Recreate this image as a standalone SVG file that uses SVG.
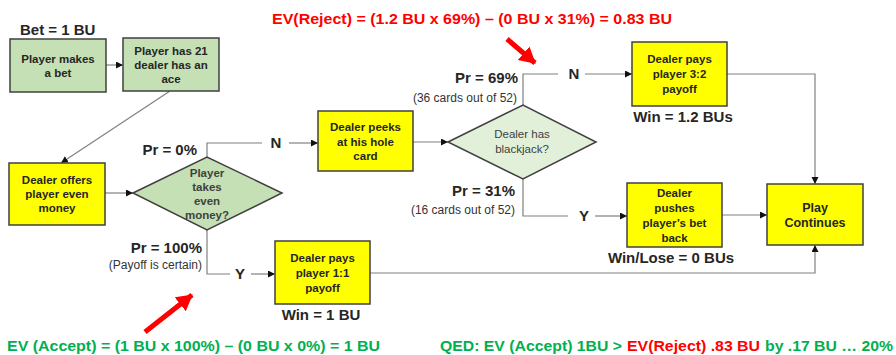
<svg xmlns="http://www.w3.org/2000/svg" width="896" height="355" viewBox="0 0 896 355">
<defs>
<marker id="ah" markerUnits="userSpaceOnUse" markerWidth="8" markerHeight="8" refX="7" refY="3.5" orient="auto"><path d="M0,0 L7,3.5 L0,7 z" fill="#111"/></marker>
<marker id="rh" markerUnits="userSpaceOnUse" markerWidth="20" markerHeight="20" refX="15" refY="9" orient="auto"><path d="M0,0 L16,9 L0,18 z" fill="#ff0000"/></marker>
</defs>
<style>
text{font-family:"Liberation Sans",Arial,sans-serif;font-weight:bold;fill:#262626}
.bt{font-size:11.5px;text-anchor:middle}
.dt{font-size:11.5px;text-anchor:middle;fill:#404040}
.dn{font-size:11.5px;text-anchor:middle;fill:#404040;font-weight:normal}
.lb{font-size:15px}
.sm{font-size:12px;font-weight:normal;fill:#333}
.gbox{fill:#c5e0b4;stroke:#404040;stroke-width:1.5}
.ybox{fill:#ffff00;stroke:#404040;stroke-width:1.5}
.red{fill:#ff0000}
.grn{fill:#00b050}
.c{fill:none;stroke:#808080;stroke-width:1.2}
.ca{fill:none;stroke:#808080;stroke-width:1.2;marker-end:url(#ah)}
.ra{stroke:#ff0000;stroke-width:5;marker-end:url(#rh)}
</style>

<g id="connectors">
<line class="ca" x1="106" y1="65" x2="123" y2="65"/>
<line class="ca" x1="170" y1="91" x2="61" y2="163"/>
<line class="ca" x1="105" y1="193" x2="133" y2="193"/>
<polyline class="c" points="207,157 207,143 262,143"/>
<line class="ca" x1="289" y1="143" x2="318" y2="143"/>
<polyline class="c" points="207,230 207,274 230,274"/>
<line class="ca" x1="251" y1="274" x2="275" y2="274"/>
<polyline class="ca" points="370,273 815,273 815,245"/>
<line class="ca" x1="413" y1="142" x2="448" y2="142"/>
<polyline class="c" points="523,105 523,74 558,74"/>
<line class="ca" x1="585" y1="74" x2="632" y2="74"/>
<polyline class="c" points="523,179 523,216 568,216"/>
<line class="ca" x1="595" y1="216" x2="627" y2="216"/>
<polyline class="ca" points="727,74 815,74 815,184"/>
<line class="ca" x1="722" y1="215" x2="767" y2="215"/>
<line class="ra" x1="507" y1="39" x2="535" y2="63"/>
<line class="ra" x1="145" y1="332" x2="192" y2="295"/>
</g>

<g id="bet"><text class="lb" x="20" y="35">Bet = 1 BU</text></g>

<g id="n1">
<rect class="gbox" x="10" y="39" width="96" height="53"/>
<text class="bt" x="58" y="63">Player makes</text>
<text class="bt" x="58" y="77">a bet</text>
</g>
<g id="n2">
<rect class="gbox" x="123" y="38" width="96" height="53"/>
<text class="bt" x="171" y="55">Player has 21</text>
<text class="bt" x="171" y="69">dealer has an</text>
<text class="bt" x="171" y="83">ace</text>
</g>
<g id="n3">
<rect class="ybox" x="9" y="163" width="96" height="62"/>
<text class="bt" x="57" y="184">Dealer offers</text>
<text class="bt" x="57" y="198">player even</text>
<text class="bt" x="57" y="212">money</text>
</g>
<g id="d1">
<polygon class="gbox" points="133,193 207,157 282,193 207,230"/>
<text class="dt" x="207" y="177">Player</text>
<text class="dt" x="207" y="191">takes</text>
<text class="dt" x="207" y="205">even</text>
<text class="dt" x="207" y="219">money?</text>
</g>
<g id="n4">
<rect class="ybox" x="318" y="111" width="95" height="60"/>
<text class="bt" x="365.5" y="131">Dealer peeks</text>
<text class="bt" x="365.5" y="145.5">at his hole</text>
<text class="bt" x="365.5" y="160">card</text>
</g>
<g id="n5">
<rect class="ybox" x="275" y="241" width="95" height="63"/>
<text class="bt" x="322.5" y="262">Dealer pays</text>
<text class="bt" x="322.5" y="277">player 1:1</text>
<text class="bt" x="322.5" y="292">payoff</text>
<text class="lb" x="321" y="320" text-anchor="middle">Win = 1 BU</text>
</g>
<g id="d2">
<polygon points="448,142 523,105 596,142 523,179" fill="#e2f0d9" stroke="#404040" stroke-width="1.5"/>
<text class="dn" x="522" y="138">Dealer has</text>
<text class="dn" x="522" y="153">blackjack?</text>
</g>
<g id="n6">
<rect class="ybox" x="632" y="42" width="95" height="64"/>
<text class="bt" x="679.5" y="63">Dealer pays</text>
<text class="bt" x="679.5" y="78">player 3:2</text>
<text class="bt" x="679.5" y="93">payoff</text>
<text class="lb" x="683" y="122" text-anchor="middle">Win = 1.2 BUs</text>
</g>
<g id="n7">
<rect class="ybox" x="627" y="183" width="95" height="64"/>
<text class="bt" x="674.5" y="197">Dealer</text>
<text class="bt" x="674.5" y="212">pushes</text>
<text class="bt" x="674.5" y="227">player’s bet</text>
<text class="bt" x="674.5" y="242">back</text>
<text class="lb" x="671" y="263" text-anchor="middle">Win/Lose = 0 BUs</text>
</g>
<g id="n8">
<rect class="ybox" x="767" y="184" width="96" height="61"/>
<text class="bt" x="815" y="212" style="font-size:12.5px">Play</text>
<text class="bt" x="815" y="227" style="font-size:12.5px">Continues</text>
</g>

<g id="labels">
<text class="lb" x="197" y="155" text-anchor="end">Pr = 0%</text>
<text class="lb" x="276" y="148" text-anchor="middle">N</text>
<text class="lb" x="202" y="253" text-anchor="end">Pr = 100%</text>
<text class="sm" x="202" y="269" text-anchor="end">(Payoff is certain)</text>
<text class="lb" x="240" y="279" text-anchor="middle">Y</text>
<text class="lb" x="518" y="83" text-anchor="end">Pr = 69%</text>
<text class="sm" x="517" y="102" text-anchor="end">(36 cards out of 52)</text>
<text class="lb" x="574" y="79" text-anchor="middle">N</text>
<text class="lb" x="515" y="196" text-anchor="end">Pr = 31%</text>
<text class="sm" x="515" y="214" text-anchor="end">(16 cards out of 52)</text>
<text class="lb" x="584" y="221" text-anchor="middle">Y</text>
</g>

<g id="ev">
<text class="lb red" x="272" y="24" textLength="400" lengthAdjust="spacingAndGlyphs">EV(Reject) = (1.2 BU x 69%) – (0 BU x 31%) = 0.83 BU</text>
<text class="lb grn" x="7" y="351" textLength="373" lengthAdjust="spacingAndGlyphs">EV (Accept) = (1 BU x 100%) – (0 BU x 0%) = 1 BU</text>
<text class="lb grn" x="440" y="351" textLength="182" lengthAdjust="spacingAndGlyphs">QED: EV (Accept) 1BU &gt;</text>
<text class="lb red" x="627" y="351" textLength="133" lengthAdjust="spacingAndGlyphs">EV(Reject) .83 BU</text>
<text class="lb grn" x="765" y="351" textLength="128" lengthAdjust="spacingAndGlyphs">by .17 BU … 20%</text>
</g>
</svg>
